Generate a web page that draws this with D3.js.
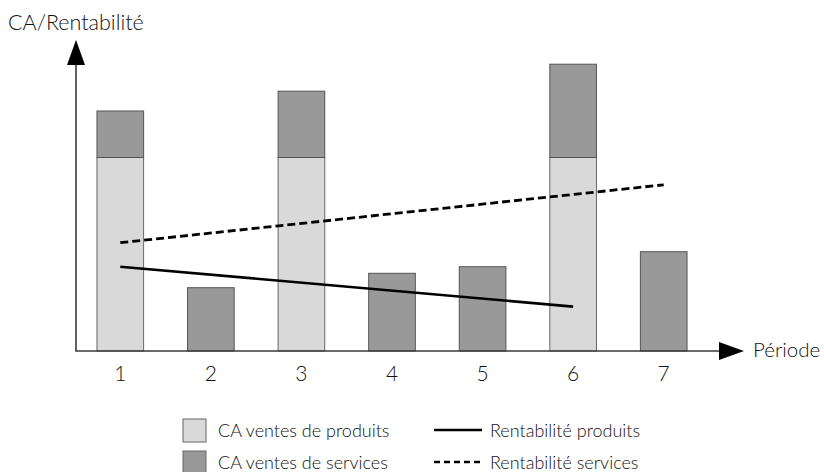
<!DOCTYPE html>
<html>
<head>
<meta charset="utf-8">
<script src="https://cdn.jsdelivr.net/npm/d3@7"></script>
<style>
  html, body { margin: 0; padding: 0; background: #fff; }
  svg { display: block; }
  text { font-family: "Lato", "DejaVu Sans", sans-serif; font-weight: 300; fill: #111; }
</style>
</head>
<body>
<svg id="chart" width="824" height="472"></svg>
<script>
// Périodes et chiffres d'affaires (unités arbitraires)
const periodes = ["1", "2", "3", "4", "5", "6", "7"];
const caProduits = [64.5, 0, 64.5, 0, 0, 64.5, 0];
const caServices = [15.5, 21.1, 22.1, 25.9, 28.1, 31.1, 33.1];

// Tendances de rentabilité (points de début et de fin)
const rentaProduitsPeriodes = ["1", "6"];
const rentaProduits = [28.1, 14.8];
const rentaServicesPeriodes = ["1", "7"];
const rentaServices = [36.1, 55.4];

const legendeBarres = ["CA ventes de produits", "CA ventes de services"];
const legendeLignes = ["Rentabilité produits", "Rentabilité services"];

const svg = d3.select("#chart");
const couleurProduits = "#d9d9d9";
const couleurServices = "#999999";
const couleurAxe = "#3a3a3a";

const x = d3.scaleBand()
  .domain(periodes)
  .range([75, 709])
  .paddingInner(0.485)
  .paddingOuter(0.2425);

const y = d3.scaleLinear().domain([0, 100]).range([351, 51]);

const x0 = 76, yBase = y(0);

// Barres empilées : produits en bas, services au-dessus
const lignesBarres = periodes.map((p, i) => ({ p, prod: caProduits[i], serv: caServices[i] }));
const gBarres = svg.append("g");
gBarres.selectAll("rect.prod")
  .data(lignesBarres.filter(d => d.prod > 0))
  .join("rect")
  .attr("class", "prod")
  .attr("x", d => x(d.p))
  .attr("width", x.bandwidth())
  .attr("y", d => y(d.prod))
  .attr("height", d => y(0) - y(d.prod))
  .attr("fill", couleurProduits)
  .attr("stroke", "#666")
  .attr("stroke-width", 1);
gBarres.selectAll("rect.serv")
  .data(lignesBarres)
  .join("rect")
  .attr("class", "serv")
  .attr("x", d => x(d.p))
  .attr("width", x.bandwidth())
  .attr("y", d => y(d.prod + d.serv))
  .attr("height", d => y(d.prod) - y(d.prod + d.serv))
  .attr("fill", couleurServices)
  .attr("stroke", "#555")
  .attr("stroke-width", 1);

// Lignes de rentabilité
const cx = p => x(p) + x.bandwidth() / 2;
const ligne = d3.line().x(d => cx(d[0])).y(d => y(d[1]));
svg.append("path")
  .datum(rentaProduitsPeriodes.map((p, i) => [p, rentaProduits[i]]))
  .attr("d", ligne)
  .attr("fill", "none")
  .attr("stroke", "#000")
  .attr("stroke-width", 2.6);
svg.append("path")
  .datum(rentaServicesPeriodes.map((p, i) => [p, rentaServices[i]]))
  .attr("d", ligne)
  .attr("fill", "none")
  .attr("stroke", "#000")
  .attr("stroke-width", 2.8)
  .attr("stroke-dasharray", "8,4");

// Axes avec flèches
svg.append("line")
  .attr("x1", x0).attr("y1", yBase).attr("x2", x0).attr("y2", 64)
  .attr("stroke", couleurAxe).attr("stroke-width", 1.6);
svg.append("path")
  .attr("d", `M${x0},40 L${x0 + 9},65 L${x0 - 9},65 Z`)
  .attr("fill", "#000");
svg.append("line")
  .attr("x1", x0 - 0.8).attr("y1", yBase).attr("x2", 720).attr("y2", yBase)
  .attr("stroke", couleurAxe).attr("stroke-width", 1.6);
svg.append("path")
  .attr("d", `M744,${yBase} L719,${yBase - 9} L719,${yBase + 9} Z`)
  .attr("fill", "#000");

// Étiquettes de l'axe horizontal
const axeX = d3.axisBottom(x).tickSize(0).tickPadding(15);
const gAxe = svg.append("g").attr("transform", `translate(0,${yBase})`).call(axeX);
gAxe.select(".domain").remove();
gAxe.selectAll("text")
  .attr("font-size", 21)
  .attr("font-family", "Lato, 'DejaVu Sans', sans-serif")
  .attr("font-weight", 300)
  .attr("fill", "#111");

// Titres des axes
svg.append("text").attr("x", 8).attr("y", 30).attr("font-size", 21.5).text("CA/Rentabilité");
svg.append("text").attr("x", 753).attr("y", 357).attr("font-size", 20.5).text("Période");

// Légende
const legY = [430, 462];
const gLeg = svg.append("g");
gLeg.selectAll("rect")
  .data(legendeBarres)
  .join("rect")
  .attr("x", 183)
  .attr("y", (d, i) => legY[i] - 11)
  .attr("width", 23)
  .attr("height", 23)
  .attr("fill", (d, i) => i === 0 ? couleurProduits : couleurServices)
  .attr("stroke", "#666")
  .attr("stroke-width", 1);
gLeg.selectAll("text.barre")
  .data(legendeBarres)
  .join("text")
  .attr("class", "barre")
  .attr("x", 218)
  .attr("y", (d, i) => legY[i] + 7)
  .attr("font-size", 18)
  .text(d => d);
gLeg.selectAll("line")
  .data(legendeLignes)
  .join("line")
  .attr("x1", 434).attr("x2", 482)
  .attr("y1", (d, i) => legY[i]).attr("y2", (d, i) => legY[i])
  .attr("stroke", "#000")
  .attr("stroke-width", 2.6)
  .attr("stroke-dasharray", (d, i) => i === 0 ? null : "6,4");
gLeg.selectAll("text.ligne")
  .data(legendeLignes)
  .join("text")
  .attr("class", "ligne")
  .attr("x", 490)
  .attr("y", (d, i) => legY[i] + 7)
  .attr("font-size", 18)
  .text(d => d);
</script>
</body>
</html>
